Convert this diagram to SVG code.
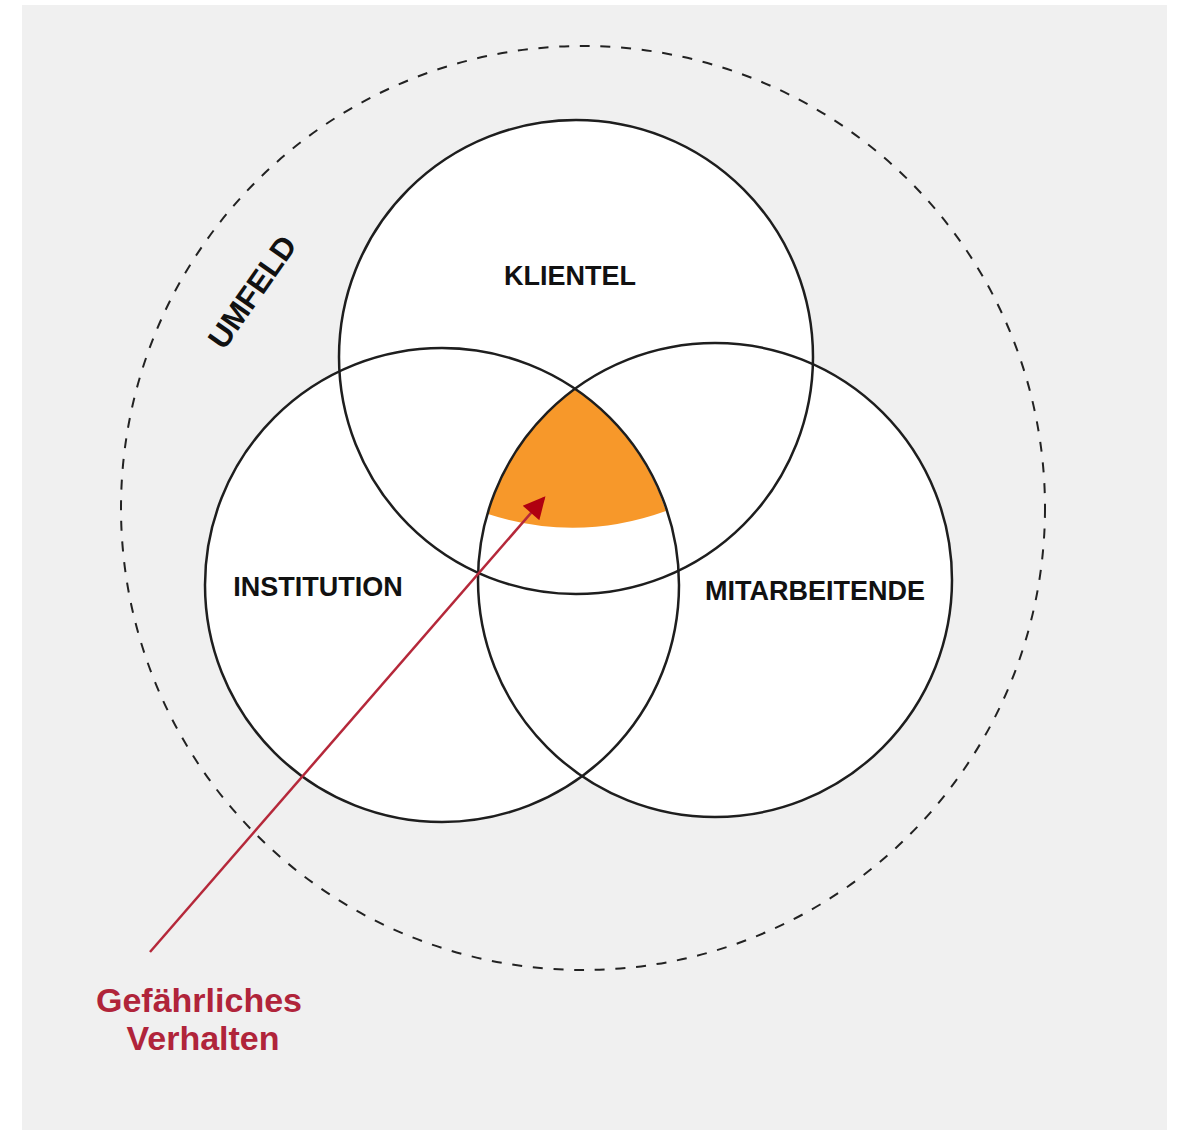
<svg xmlns="http://www.w3.org/2000/svg" width="1179" height="1132" viewBox="0 0 1179 1132">
<defs>
<style>
.set{fill:none;stroke:#1e1e1e;stroke-width:2.5}
.lbl{font-family:"Liberation Sans",Arial,sans-serif;font-weight:bold;font-size:27px;fill:#111;text-anchor:middle}
.red{font-family:"Liberation Sans",Arial,sans-serif;font-weight:bold;font-size:34px;fill:#b0243a;text-anchor:middle}
</style>
<marker id="ah" viewBox="0 0 10 10" refX="9" refY="5" markerWidth="26" markerHeight="22" markerUnits="userSpaceOnUse" orient="auto">
<path d="M0,0 L10,5 L0,10 Z" fill="#b00010"/>
</marker>
</defs>
<rect width="1179" height="1132" fill="#ffffff"/>
<rect x="22" y="5" width="1145" height="1125" fill="#f0f0f0"/>
<g id="umfeld">
<circle cx="583" cy="508" r="462" fill="none" stroke="#222" stroke-width="2" stroke-dasharray="10 10.7"/>
<text class="lbl" style="font-size:31px" transform="translate(261,298) rotate(-55)">UMFELD</text>
</g>
<g id="fills">
<circle cx="576" cy="357" r="237" fill="#fff"/>
<circle cx="442" cy="585" r="237" fill="#fff"/>
<circle cx="715" cy="580" r="237" fill="#fff"/>
</g>
<g id="gefahr-zone">
<path d="M575,389 A237,237 0 0 0 488,514 Q577,543 666,511 A237,237 0 0 0 575,389 Z" fill="#f7982a"/>
</g>
<g id="klientel">
<circle class="set" cx="576" cy="357" r="237"/>
<text class="lbl" x="570" y="285">KLIENTEL</text>
</g>
<g id="institution">
<circle class="set" cx="442" cy="585" r="237"/>
<text class="lbl" x="318" y="596">INSTITUTION</text>
</g>
<g id="mitarbeitende">
<circle class="set" cx="715" cy="580" r="237"/>
<text class="lbl" x="815" y="600">MITARBEITENDE</text>
</g>
<g id="connectors">
<line x1="150" y1="952" x2="544" y2="498" stroke="#b5283a" stroke-width="2.5" marker-end="url(#ah)"/>
</g>
<g id="gefaehrliches-verhalten">
<text class="red" x="199" y="1012">Gefährliches</text>
<text class="red" x="203" y="1050">Verhalten</text>
</g>
</svg>
